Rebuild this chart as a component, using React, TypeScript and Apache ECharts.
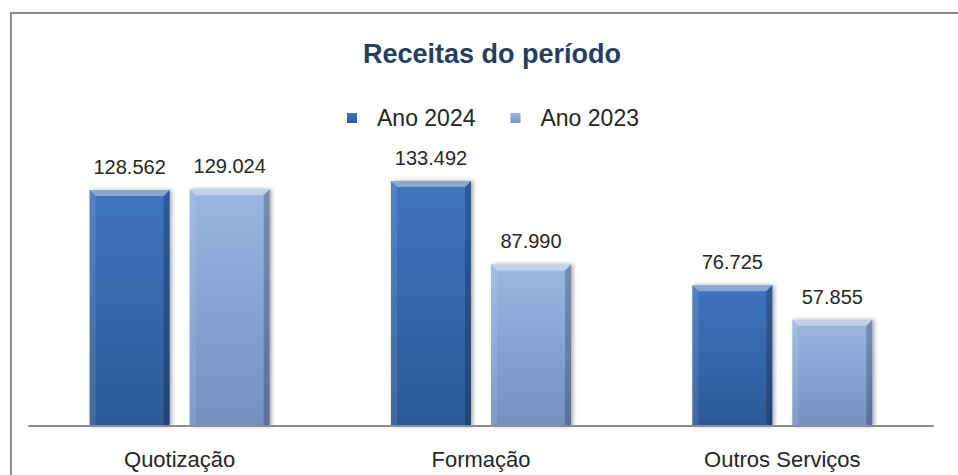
import React, { useEffect, useRef } from "react";
import * as echarts from "echarts";

const categories = ["Quotização", "Formação", "Outros Serviços"];
const seriesNames = ["Ano 2024", "Ano 2023"];
const values2024 = [128562, 133492, 76725];
const values2023 = [129024, 87990, 57855];
const titleText = "Receitas do período";

const FONT = "'Liberation Sans', Arial, sans-serif";

const palettes = [
  { top: "#3f75c0", bottom: "#2c5995" },
  { top: "#9ab6e2", bottom: "#7390c2" },
];

const fmt = (v: number) => String(v).replace(/\B(?=(\d{3})+(?!\d))/g, ".");

const grad = (p: { top: string; bottom: string }) =>
  new echarts.graphic.LinearGradient(0, 0, 0, 1, [
    { offset: 0, color: p.top },
    { offset: 1, color: p.bottom },
  ]);

const BAR_FRAC = 80 / 301.3;
const GAP_FRAC = 20 / 301.3;

const makeRender = (sIdx: number) => (params: any, api: any) => {
  const cat = api.value(0);
  const val = api.value(1);
  const base = api.coord([cat, 0]);
  const top = api.coord([cat, val]);
  const band = api.size([1, 0])[0];
  const bw = band * BAR_FRAC;
  const gap = band * GAP_FRAC;
  const cx = base[0] + (sIdx === 0 ? -1 : 1) * (bw + gap) / 2;
  const x0 = cx - bw / 2;
  const x1 = cx + bw / 2;
  const y0 = top[1];
  const y1 = base[1];
  const b = 6;
  return {
    type: "group",
    children: [
      {
        type: "rect",
        shape: { x: x0, y: y0, width: bw, height: y1 - y0 },
        style: {
          fill: grad(palettes[sIdx]),
          shadowBlur: 4,
          shadowOffsetX: 2,
          shadowOffsetY: 0,
          shadowColor: "rgba(0,0,0,0.35)",
        },
      },
      {
        type: "polygon",
        shape: { points: [[x0, y0], [x0 + b, y0 + b], [x0 + b, y1], [x0, y1]] },
        style: { fill: "rgba(255,255,255,0.10)" },
      },
      {
        type: "polygon",
        shape: { points: [[x1, y0], [x1 - b, y0 + b], [x1 - b, y1], [x1, y1]] },
        style: { fill: "rgba(0,0,0,0.22)" },
      },
      {
        type: "polygon",
        shape: { points: [[x0, y0], [x1, y0], [x1 - b, y0 + b], [x0 + b, y0 + b]] },
        style: { fill: "rgba(255,255,255,0.38)" },
      },
      {
        type: "text",
        style: {
          text: fmt(val),
          x: cx,
          y: y0 - 23,
          align: "center",
          verticalAlign: "middle",
          fontSize: 20,
          fontFamily: FONT,
          fill: "#262626",
        },
      },
    ],
  };
};

export default function App() {
  const ref = useRef<HTMLDivElement>(null);
  useEffect(() => {
    if (!ref.current) return;
    const chart = echarts.init(ref.current, null, { renderer: "svg" });
    const allSeries = [values2024, values2023];
    chart.setOption({
      animation: false,
      backgroundColor: "#ffffff",
      grid: { left: 29, right: 25, top: 169, bottom: 49, containLabel: false },
      graphic: [
        {
          type: "rect",
          z: -10,
          shape: { x: 11, y: 13, width: 1000, height: 1000 },
          style: { fill: "none", stroke: "#8c8c8c", lineWidth: 2 },
        },
        {
          type: "text",
          x: 492,
          y: 54,
          style: {
            text: titleText,
            align: "center",
            verticalAlign: "middle",
            fontSize: 27,
            fontWeight: "bold",
            fontFamily: FONT,
            fill: "#243f60",
          },
        },
      ],
      legend: {
        left: 347,
        top: 106,
        padding: 0,
        itemWidth: 10,
        itemHeight: 10,
        itemGap: 35,
        icon: "rect",
        textStyle: {
          fontSize: 23,
          lineHeight: 24,
          fontFamily: FONT,
          color: "#262626",
          padding: [0, 0, 0, 15],
        },
        data: seriesNames,
      },
      xAxis: {
        type: "category",
        data: categories,
        axisTick: { show: false },
        axisLine: { lineStyle: { color: "#8c8c8c", width: 2 } },
        axisLabel: {
          fontSize: 22,
          fontFamily: FONT,
          color: "#262626",
          margin: 22,
          lineHeight: 22,
        },
        z: 5,
      },
      yAxis: {
        type: "value",
        min: 0,
        max: 140000,
        show: false,
        splitLine: { show: false },
      },
      series: allSeries.map((vals, i) => ({
        type: "custom",
        name: seriesNames[i],
        renderItem: makeRender(i),
        itemStyle: { color: grad(palettes[i]) },
        encode: { x: 0, y: 1 },
        data: vals.map((v, j) => [j, v]),
        clip: false,
      })),
    });
    return () => chart.dispose();
  }, []);
  return (
    <div
      ref={ref}
      style={{ position: "fixed", left: 0, top: 0, width: 958, height: 475 }}
    />
  );
}
